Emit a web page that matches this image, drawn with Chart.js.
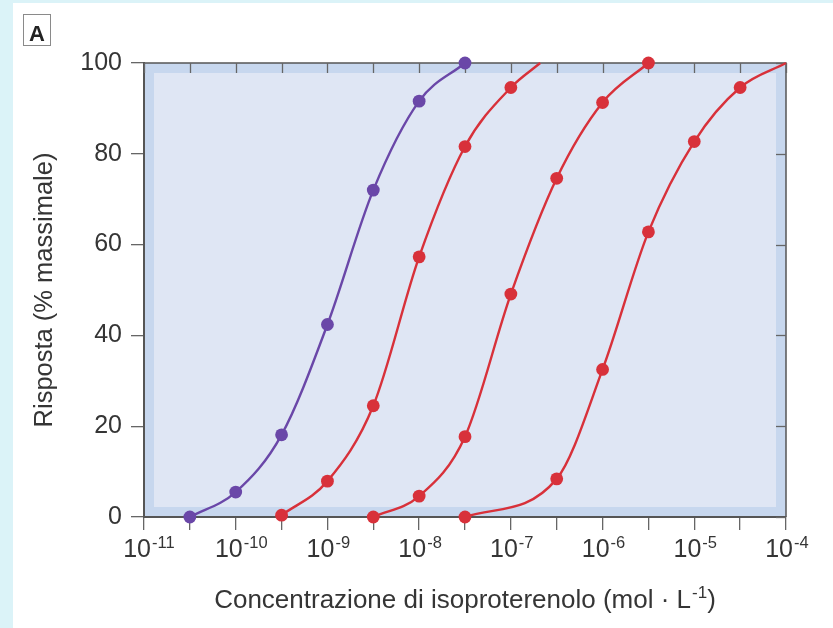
<!DOCTYPE html>
<html>
<head>
<meta charset="utf-8">
<script src="https://cdn.jsdelivr.net/npm/chart.js@4/dist/chart.umd.min.js"></script>
<style>
  html, body { margin: 0; padding: 0; background: #ffffff; }
  #wrap { width: 833px; height: 628px; }
</style>
</head>
<body>
<div id="wrap"><canvas id="c" width="833" height="628"></canvas></div>
<script>
// ---- data (x = log10 of concentration in mol/L, y = % of max response) ----
const decadeExps = [-11, -10, -9, -8, -7, -6, -5, -4];
const tickExps = [-11, -10.5, -10, -9.5, -9, -8.5, -8, -7.5, -7, -6.5, -6, -5.5, -5, -4.5, -4];
const yTicks = [0, 20, 40, 60, 80, 100];

const purpleExp = [-10.5, -10, -9.5, -9, -8.5, -8, -7.5];
const purpleVal = [0, 5.5, 18.1, 42.4, 72.0, 91.6, 100];
const purpleMarked = [1, 1, 1, 1, 1, 1, 1];

const red1Exp = [-9.5, -9, -8.5, -8, -7.5, -7, -6.68];
const red1Val = [0.4, 7.9, 24.5, 57.3, 81.6, 94.6, 100];
const red1Marked = [1, 1, 1, 1, 1, 1, 0];

const red2Exp = [-8.5, -8, -7.5, -7, -6.5, -6, -5.5];
const red2Val = [0, 4.6, 17.7, 49.1, 74.6, 91.3, 100];
const red2Marked = [1, 1, 1, 1, 1, 1, 1];

const red3Exp = [-7.5, -6.5, -6, -5.5, -5, -4.5, -4];
const red3Val = [0, 8.4, 32.5, 62.8, 82.7, 94.6, 100];
const red3Marked = [1, 1, 1, 1, 1, 1, 0];

const xTitleMain = 'Concentrazione di isoproterenolo (mol \u00B7 L';
const xTitleSup = '-1';
const xTitleEnd = ')';
const yTitle = 'Risposta (% massimale)';
const panelLabel = 'A';

const PURPLE = '#6a47a8';
const RED = '#d8313a';
const TEXT = '#353535';
const AXIS = '#555555';
const FONT = '"Liberation Sans", Arial, Helvetica, sans-serif';

function toPoints(exps, vals) {
  return exps.map((e, i) => ({ x: Math.pow(10, e), y: vals[i] }));
}
function radii(marked) { return marked.map(m => m ? 6.4 : 0); }

function makeSet(label, exps, vals, marked, color) {
  return {
    label,
    data: toPoints(exps, vals),
    borderColor: color,
    backgroundColor: color,
    pointBackgroundColor: color,
    pointBorderColor: color,
    pointRadius: radii(marked),
    pointHoverRadius: radii(marked),
    pointBorderWidth: 0,
    borderWidth: 2.4,
    cubicInterpolationMode: 'monotone',
    fill: false,
    clip: false
  };
}

const decor = {
  id: 'decor',
  beforeDraw(chart) {
    const { ctx, width, height, chartArea: a } = chart;
    ctx.save();
    ctx.fillStyle = '#dbf3f8';
    ctx.fillRect(0, 0, width, height);
    ctx.fillStyle = '#ffffff';
    ctx.fillRect(13, 3, width - 13, height - 3);
    ctx.fillStyle = '#c7d7ee';
    ctx.fillRect(a.left, a.top, a.right - a.left, a.bottom - a.top);
    ctx.fillStyle = '#dfe6f4';
    ctx.fillRect(a.left + 10, a.top + 10, a.right - a.left - 20, a.bottom - a.top - 20);
    ctx.restore();
  },
  beforeDatasetsDraw(chart) {
    const { ctx, chartArea: a, scales } = chart;
    const xs = scales.x, ys = scales.y;
    ctx.save();
    ctx.strokeStyle = AXIS;
    ctx.lineWidth = 1.5;
    ctx.beginPath();
    ctx.moveTo(a.left, a.top); ctx.lineTo(a.right, a.top); ctx.lineTo(a.right, a.bottom);
    ctx.stroke();
    ctx.lineWidth = 1.3;
    ctx.strokeStyle = '#666';
    tickExps.forEach(e => {
      const px = Math.round(xs.getPixelForValue(Math.pow(10, e))) + 0.5;
      ctx.beginPath(); ctx.moveTo(px, a.top); ctx.lineTo(px, a.top + 10); ctx.stroke();
    });
    yTicks.forEach(v => {
      const py = Math.round(ys.getPixelForValue(v)) + 0.5;
      ctx.beginPath(); ctx.moveTo(a.right - 10, py); ctx.lineTo(a.right, py); ctx.stroke();
    });
    ctx.restore();
  },
  afterDraw(chart) {
    const { ctx, chartArea: a, scales } = chart;
    const xs = scales.x;
    ctx.save();
    ctx.fillStyle = TEXT;
    decadeExps.forEach(e => {
      const px = xs.getPixelForValue(Math.pow(10, e));
      ctx.font = '25px ' + FONT;
      ctx.textAlign = 'right';
      ctx.textBaseline = 'alphabetic';
      ctx.fillText('10', px + 7, a.bottom + 40);
      ctx.font = '16.5px ' + FONT;
      ctx.textAlign = 'left';
      ctx.fillText(String(e), px + 8, a.bottom + 31);
    });
    ctx.font = '26px ' + FONT;
    const w1 = ctx.measureText(xTitleMain).width;
    const w3 = ctx.measureText(xTitleEnd).width;
    ctx.font = '17px ' + FONT;
    const w2 = ctx.measureText(xTitleSup).width;
    const total = w1 + w2 + 1 + w3;
    let x0 = (a.left + a.right) / 2 - total / 2;
    const base = a.bottom + 91;
    ctx.textAlign = 'left';
    ctx.font = '26px ' + FONT;
    ctx.fillText(xTitleMain, x0, base);
    ctx.font = '17px ' + FONT;
    ctx.fillText(xTitleSup, x0 + w1 + 1, base - 10);
    ctx.font = '26px ' + FONT;
    ctx.fillText(xTitleEnd, x0 + w1 + w2 + 1, base);
    ctx.strokeStyle = '#8a8a8a';
    ctx.lineWidth = 1;
    ctx.strokeRect(23.5, 14.5, 27, 31);
    ctx.font = 'bold 22px ' + FONT;
    ctx.textAlign = 'center';
    ctx.fillStyle = '#222';
    ctx.fillText(panelLabel, 37, 41);
    ctx.restore();
  }
};

new Chart(document.getElementById('c'), {
  type: 'line',
  data: {
    datasets: [
      makeSet('purple', purpleExp, purpleVal, purpleMarked, PURPLE),
      makeSet('red1', red1Exp, red1Val, red1Marked, RED),
      makeSet('red2', red2Exp, red2Val, red2Marked, RED),
      makeSet('red3', red3Exp, red3Val, red3Marked, RED)
    ]
  },
  options: {
    responsive: false,
    animation: false,
    events: [],
    layout: { padding: { left: 0, top: 63, right: 47, bottom: 0 } },
    plugins: { legend: { display: false }, tooltip: { enabled: false }, title: { display: false } },
    scales: {
      x: {
        type: 'logarithmic',
        min: Math.pow(10, decadeExps[0]),
        max: Math.pow(10, decadeExps[decadeExps.length - 1]),
        afterBuildTicks(scale) {
          scale.ticks = tickExps.map(e => ({ value: Math.pow(10, e) }));
        },
        afterFit(scale) { scale.height = 111; },
        ticks: { display: false },
        grid: { drawOnChartArea: false, drawTicks: true, tickLength: 13, color: '#666', lineWidth: 1.3 },
        border: { display: true, color: AXIS, width: 2 }
      },
      y: {
        min: 0, max: 100,
        afterBuildTicks(scale) {
          scale.ticks = yTicks.map(v => ({ value: v }));
        },
        afterFit(scale) { scale.width = 144; },
        ticks: { color: TEXT, font: { family: FONT, size: 25 }, padding: 9 },
        grid: { drawOnChartArea: false, drawTicks: true, tickLength: 13, color: '#666', lineWidth: 1.3 },
        border: { display: true, color: AXIS, width: 2 },
        title: { display: true, text: yTitle, color: TEXT, font: { family: FONT, size: 25.5 }, padding: { top: 30, bottom: 0 } }
      }
    }
  },
  plugins: [decor]
});
</script>
</body>
</html>
